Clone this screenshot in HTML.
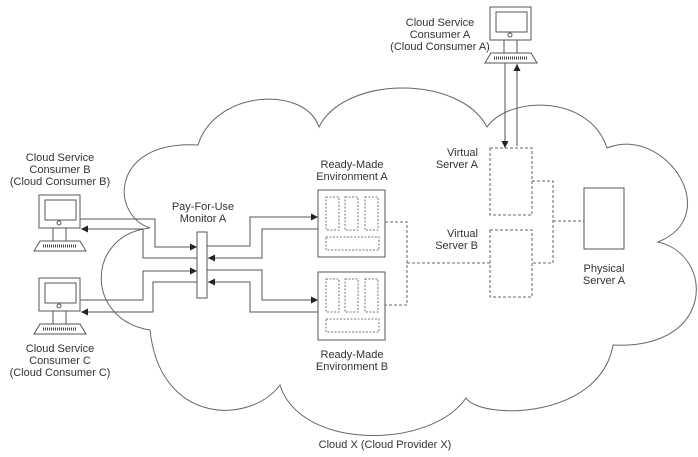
<!DOCTYPE html>
<html><head><meta charset="utf-8"><style>
html,body{margin:0;padding:0;background:#fff;}
svg{display:block;}
text{font-family:"Liberation Sans",sans-serif;font-size:11px;fill:#333;}
</style></head><body>
<svg width="698" height="457" viewBox="0 0 698 457" xmlns="http://www.w3.org/2000/svg">
<defs>
<marker id="ar" viewBox="0 0 10 10" refX="10" refY="5" markerWidth="7" markerHeight="7" orient="auto-start-reverse" markerUnits="userSpaceOnUse"><path d="M0,0 L10,5 L0,10 z" fill="#222"/></marker>
<g id="pc">
<rect x="0" y="0" width="41" height="33" fill="#fff" stroke="#555"/>
<rect x="6" y="5" width="31" height="20" fill="#fff" stroke="#555"/>
<circle cx="20" cy="28" r="2" fill="none" stroke="#555"/>
<rect x="14" y="33" width="13" height="13" fill="#fff" stroke="#555"/>
<path d="M1,46 L41,46 L47,56 L-5,56 Z" fill="#fff" stroke="#555"/>
<line x1="4" y1="51" x2="38" y2="51" stroke="#444" stroke-width="3" stroke-dasharray="1,1"/>
</g>
</defs>

<!-- cloud -->
<path d="M150,228 C110,215 110,140 198,145 C215,90 305,85 319,127 C345,75 460,75 487,127 C510,95 590,95 607,148 C665,125 725,215 658,242 C715,255 715,350 613,345 C600,420 480,420 466,398 C430,450 300,450 280,385 C250,425 160,425 150,330 C85,320 85,235 150,228 Z" fill="#fff" stroke="#666" stroke-width="1"/>

<!-- computers -->
<use href="#pc" x="39" y="195"/>
<use href="#pc" x="39" y="278"/>
<use href="#pc" x="490" y="7"/>

<g fill="none" stroke="#555" stroke-width="1">
<!-- consumer B/C to monitor -->
<polyline points="80,219 155,219 155,247 197,247" marker-end="url(#ar)"/>
<polyline points="197,258 143,258 143,229 81,229" marker-end="url(#ar)"/>
<polyline points="80,300 143,300 143,271 197,271" marker-end="url(#ar)"/>
<polyline points="197,282 153,282 153,312 81,312" marker-end="url(#ar)"/>
<!-- monitor to envs -->
<polyline points="207,246 250,246 250,217 318,217" marker-end="url(#ar)"/>
<polyline points="318,229 262,229 262,258 208,258" marker-end="url(#ar)"/>
<polyline points="207,270 262,270 262,300 318,300" marker-end="url(#ar)"/>
<polyline points="318,312 250,312 250,282 208,282" marker-end="url(#ar)"/>
<!-- consumer A -->
<line x1="505" y1="63" x2="505" y2="148" marker-end="url(#ar)"/>
<line x1="517" y1="146" x2="517" y2="64" marker-end="url(#ar)"/>
</g>

<!-- pay-for-use monitor -->
<rect x="197" y="232" width="10" height="66" fill="#fff" stroke="#555"/>

<!-- environments -->
<g fill="#fff" stroke="#555">
<rect x="318" y="190" width="67" height="67"/>
<rect x="318" y="272" width="67" height="68"/>
</g>
<g fill="none" stroke="#777" stroke-dasharray="2,1.5">
<rect x="326" y="197" width="13" height="33"/><rect x="345" y="197" width="13" height="33"/><rect x="365" y="197" width="13" height="33"/><rect x="326" y="237" width="53" height="13"/>
<rect x="326" y="279" width="13" height="33"/><rect x="345" y="279" width="13" height="33"/><rect x="365" y="279" width="13" height="33"/><rect x="326" y="319" width="53" height="13"/>
</g>

<!-- dashed connections -->
<g fill="none" stroke="#666" stroke-dasharray="3,2">
<polyline points="385,222 407,222 407,305 385,305"/>
<line x1="407" y1="263" x2="490" y2="263"/>
<rect x="490" y="148" width="42" height="67"/>
<rect x="490" y="230" width="42" height="67"/>
<polyline points="532,181 553,181 553,263 532,263"/>
<line x1="553" y1="221" x2="584" y2="221"/>
</g>
<rect x="584" y="188" width="40" height="61" fill="#fff" stroke="#555"/>

<!-- labels -->
<g text-anchor="middle">
<text x="60" y="161">Cloud Service</text><text x="60" y="173">Consumer B</text><text x="60" y="185">(Cloud Consumer B)</text>
<text x="60" y="352">Cloud Service</text><text x="60" y="364">Consumer C</text><text x="60" y="376">(Cloud Consumer C)</text>
<text x="440" y="26">Cloud Service</text><text x="440" y="38">Consumer A</text><text x="440" y="50">(Cloud Consumer A)</text>
<text x="203" y="210">Pay-For-Use</text><text x="203" y="222">Monitor A</text>
<text x="352" y="168">Ready-Made</text><text x="352" y="180">Environment A</text>
<text x="352" y="358">Ready-Made</text><text x="352" y="370">Environment B</text>
<text x="604" y="272">Physical</text><text x="604" y="284">Server A</text>
<text x="385" y="448">Cloud X (Cloud Provider X)</text>
</g>
<g text-anchor="end">
<text x="478" y="156">Virtual</text><text x="478" y="168">Server A</text>
<text x="478" y="237">Virtual</text><text x="478" y="249">Server B</text>
</g>
</svg>
</body></html>
